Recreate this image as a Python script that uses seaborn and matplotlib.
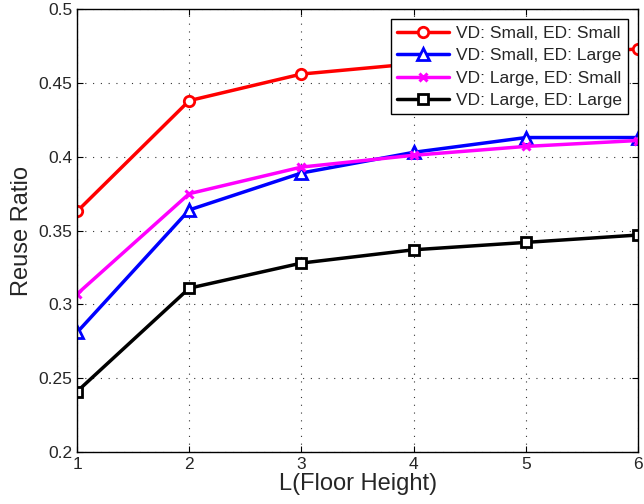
import numpy as np
import pandas as pd
import seaborn as sns
import matplotlib
matplotlib.use('Agg')
import matplotlib.pyplot as plt

# Data
floor_height = [1, 2, 3, 4, 5, 6]
small_small = [0.363, 0.438, 0.456, 0.463, 0.468, 0.473]
small_large = [0.281, 0.364, 0.389, 0.403, 0.413, 0.413]
large_small = [0.307, 0.375, 0.393, 0.401, 0.407, 0.411]
large_large = [0.241, 0.311, 0.328, 0.337, 0.342, 0.347]

labels = ['VD: Small, ED: Small', 'VD: Small, ED: Large',
          'VD: Large, ED: Small', 'VD: Large, ED: Large']
colors = ['#ff0000', '#0000ff', '#ff00ff', '#000000']
markers = ['o', '^', 'X', 's']
final_markers = ['o', '^', 'x', 's']  # seaborn won't mix line-art and filled
msizes = [7.5, 9, 6, 6.5]

df = pd.DataFrame({
    'L': floor_height * 4,
    'ratio': small_small + small_large + large_small + large_large,
    'series': [lab for lab in labels for _ in floor_height],
})

sns.set_style('white')
plt.rcParams['font.family'] = ['Liberation Sans', 'DejaVu Sans']

fig = plt.figure(figsize=(6.44, 5.04), dpi=100)
ax = fig.add_axes([0.1196, 0.103, 0.8714, 0.879])

sns.lineplot(data=df, x='L', y='ratio', hue='series', style='series',
             palette=colors, markers=markers, dashes=False, linewidth=2.5,
             ax=ax)

# matlab-like hollow markers
def style_line(line, c, m, ms):
    line.set_marker(m)
    line.set_color(c)
    line.set_markeredgecolor(c)
    line.set_markerfacecolor('white')
    line.set_markersize(ms)
    line.set_markeredgewidth(2.2 if m == 'x' else 2)
    line.set_linewidth(2.5)

for line, c, m, ms in zip(ax.lines, colors, final_markers, msizes):
    style_line(line, c, m, ms)

ax.set_xlim(1, 6)
ax.set_ylim(0.2, 0.5)
ax.set_xticks(floor_height)
ax.set_yticks([0.2, 0.25, 0.3, 0.35, 0.4, 0.45, 0.5])
ax.set_yticklabels(['0.2', '0.25', '0.3', '0.35', '0.4', '0.45', '0.5'])
ax.grid(True, linestyle=(0, (1, 6)), color='black', linewidth=0.8, alpha=0.8)
ax.tick_params(direction='in', length=4, labelsize=12.5, color='black',
               top=True, right=True, bottom=True, left=True)
for sp in ax.spines.values():
    sp.set_color('black')
    sp.set_linewidth(1)

ax.set_xlabel('L(Floor Height)', fontsize=17, labelpad=1)
ax.set_ylabel('Reuse Ratio', fontsize=17, labelpad=4)

handles, _ = ax.get_legend_handles_labels()
for h, c, m, ms in zip(handles, colors, final_markers, msizes):
    style_line(h, c, m, ms)
leg = ax.legend(handles, labels, loc='upper right', fontsize=12.5,
                frameon=True, fancybox=False, borderpad=0.35,
                labelspacing=0.42, handlelength=3, handletextpad=0.4,
                borderaxespad=0.6)
leg.get_frame().set_edgecolor('black')
leg.get_frame().set_linewidth(1)
leg.get_frame().set_alpha(1)

fig.savefig('out.png', dpi=100)
